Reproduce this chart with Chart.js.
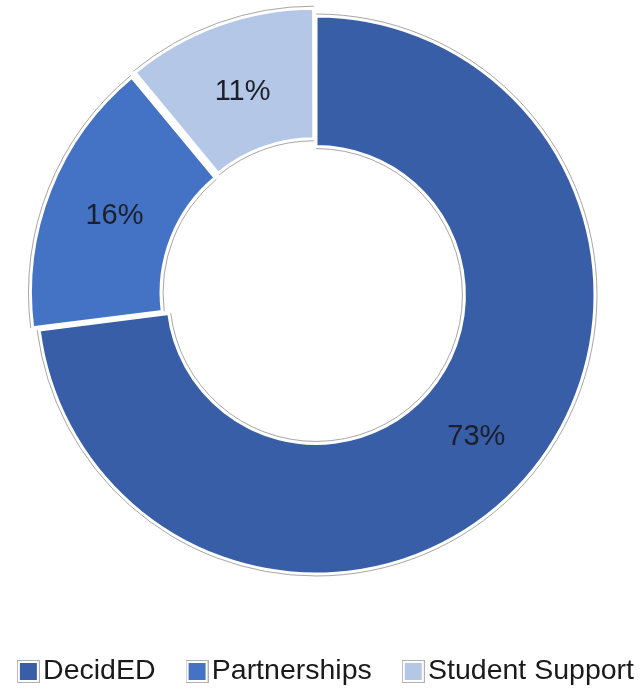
<!DOCTYPE html>
<html>
<head>
<meta charset="utf-8">
<script src="https://cdn.jsdelivr.net/npm/chart.js@4/dist/chart.umd.min.js"></script>
<style>
html,body{margin:0;padding:0;background:#ffffff;}
#wrap{width:644px;height:688px;position:relative;}
canvas{display:block;}
</style>
</head>
<body>
<div id="wrap"><canvas id="c" width="644" height="688"></canvas></div>
<script>
// ---- data ----
const categories = ['DecidED', 'Partnerships', 'Student Support'];
const shares = [73, 16, 11];

// ---- styles ----
const FONT = '"Liberation Sans", Arial, Helvetica, sans-serif';
const sliceColors = ['#385EA8', '#4472C4', '#B4C7E7'];
const sliceOffsets = [0, 24, 24];

function makeBox(color) {
  const c = document.createElement('canvas');
  c.width = 23; c.height = 23;
  const g = c.getContext('2d');
  g.fillStyle = '#ffffff'; g.fillRect(0, 0, 23, 23);
  g.strokeStyle = '#b0b0b0'; g.lineWidth = 1; g.strokeRect(0.5, 0.5, 22, 22);
  g.fillStyle = color; g.fillRect(3, 3, 17, 17);
  return c;
}
const boxImages = sliceColors.map(makeBox);

const ringOutline = {
  id: 'ringOutline',
  afterDatasetsDraw(chart) {
    const ctx = chart.ctx;
    const meta = chart.getDatasetMeta(0);
    ctx.save();
    ctx.strokeStyle = 'rgba(150,150,150,0.85)';
    ctx.lineWidth = 1;
    meta.data.forEach(arc => {
      const p = arc.getProps(['x', 'y', 'startAngle', 'endAngle', 'innerRadius', 'outerRadius'], true);
      const circ = p.endAngle - p.startAngle;
      const off = (arc.options.offset || 0) / 4;
      const a = (p.startAngle + p.endAngle) / 2;
      const ro = off * (1 - Math.sin(Math.min(Math.PI, circ)));
      const bw = arc.options.borderWidth / 2 + 0.5;
      const cx = p.x + Math.cos(a) * off, cy = p.y + Math.sin(a) * off;
      ctx.beginPath(); ctx.arc(cx, cy, p.outerRadius + ro + bw, p.startAngle, p.endAngle); ctx.stroke();
      ctx.beginPath(); ctx.arc(cx, cy, p.innerRadius + ro - bw, p.startAngle, p.endAngle); ctx.stroke();
    });
    ctx.restore();
  }
};

const sliceLabels = {
  id: 'sliceLabels',
  afterDatasetsDraw(chart) {
    const ctx = chart.ctx;
    const meta = chart.getDatasetMeta(0);
    ctx.save();
    ctx.font = '29px ' + FONT;
    ctx.fillStyle = '#1c1f2a';
    ctx.textAlign = 'center';
    ctx.textBaseline = 'middle';
    meta.data.forEach((arc, i) => {
      const p = arc.getProps(['x', 'y', 'startAngle', 'endAngle', 'innerRadius', 'outerRadius'], true);
      const a = (p.startAngle + p.endAngle) / 2;
      const r = (p.innerRadius + p.outerRadius) / 2 + (arc.options.offset || 0) / 8;
      ctx.fillText(shares[i] + '%', p.x + Math.cos(a) * r, p.y + Math.sin(a) * r + 1);
    });
    ctx.restore();
  }
};

new Chart(document.getElementById('c'), {
  type: 'doughnut',
  data: {
    labels: categories,
    datasets: [{
      data: shares,
      backgroundColor: sliceColors,
      borderColor: '#ffffff',
      borderWidth: 3,
      offset: sliceOffsets,
      hoverOffset: 0
    }]
  },
  options: {
    responsive: false,
    animation: false,
    devicePixelRatio: 1,
    radius: 279,
    cutout: '53.2%',
    rotation: 0,
    layout: { padding: { left: -43, right: -31, top: 0, bottom: -7.75 } },
    plugins: {
      tooltip: { enabled: false },
      title: {
        display: true, position: 'right', text: '',
        font: { size: 12, lineHeight: 1 }, padding: { top: 31, bottom: 0 }
      },
      legend: {
        position: 'bottom',
        align: 'end',
        title: { display: true, text: '', font: { size: 12, lineHeight: 1 }, padding: { top: 14.25, bottom: 0 } },
        labels: {
          font: { size: 28.5, family: FONT },
          color: '#1a1a1a',
          usePointStyle: true,
          pointStyleWidth: 1,
          boxHeight: 22,
          padding: 41,
          generateLabels(chart) {
            const items = Chart.overrides.doughnut.plugins.legend.labels.generateLabels(chart);
            return items.map((it, i) => Object.assign(it, { pointStyle: boxImages[i], lineWidth: 0 }));
          }
        }
      }
    }
  },
  plugins: [ringOutline, sliceLabels]
});
</script>
</body>
</html>
